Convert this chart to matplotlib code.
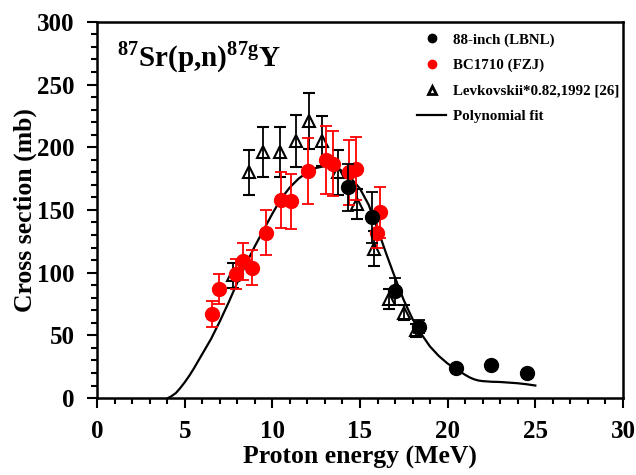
import numpy as np
import matplotlib
matplotlib.use('Agg')
import matplotlib.pyplot as plt
from matplotlib.ticker import MultipleLocator
from matplotlib.lines import Line2D

plt.rcParams['font.family'] = ['Liberation Serif', 'DejaVu Serif']
plt.rcParams['font.weight'] = 'bold'
plt.rcParams['mathtext.fontset'] = 'custom'
plt.rcParams['mathtext.rm'] = 'Liberation Serif:bold'
plt.rcParams['mathtext.bf'] = 'Liberation Serif:bold'

# 88-inch (LBNL)
e_lbnl = [14.3, 15.7, 17.0, 18.37, 20.5, 22.5, 24.5]
s_lbnl = [168, 144, 85, 57, 24, 26, 20]
d_lbnl = [19, 20, 11, 5, 2, 2, 2]

# BC1710 (FZJ)
e_fzj = [6.56, 6.96, 7.95, 8.33, 8.84, 9.64, 10.5, 11.07, 12.04, 13.06, 13.46, 14.4, 14.78, 15.97, 16.14]
s_fzj = [67, 87, 99, 109, 104, 132, 158, 157, 181, 190, 187, 180, 183, 132, 148]
d_fzj = [10, 12, 12, 15, 14, 18, 22, 22, 26, 27, 26, 26, 25, 12, 20]

# Levkovskii*0.82, 1992
e_lev = [7.76, 8.67, 9.47, 10.44, 11.35, 12.1, 12.84, 13.75, 14.83, 15.8, 16.66, 17.5, 18.2]
s_lev = [98, 180, 196, 196, 205, 221, 205, 180, 155, 119, 79, 68, 54]
d_lev = [10, 18, 20, 20, 21, 22, 20, 18, 12, 14, 8, 6, 5]

# polynomial fit
e_fit = [4.05, 4.25, 4.5, 4.75, 5.0, 5.25, 5.5, 5.75, 6.0, 6.5, 7.0, 7.5, 8.0, 8.5,
         9.0, 9.5, 10.0, 10.5, 11.0, 11.5, 12.0, 12.5, 13.0, 13.5, 14.0, 14.5,
         15.0, 15.5, 16.0, 16.5, 17.0, 17.5, 18.0, 18.5, 19.0, 19.5, 20.0, 20.5,
         21.0, 21.25, 21.5, 21.75, 22.0, 22.5, 23.0, 23.5, 24.0, 24.5, 25.0]
s_fit = [0, 1.5, 4, 8, 12.5, 17.5, 23, 29, 35, 47, 61, 76, 92, 107,
         121, 134, 147, 159, 168, 175, 180, 183.5, 185, 184.5, 181, 175,
         167, 154, 135, 115, 96, 78, 63, 51, 41, 33.5, 27.5, 23,
         18.5, 16.5, 15, 14, 13.5, 13, 12.8, 12.3, 11.8, 11, 10]

fig = plt.figure(figsize=(6.36, 4.75), dpi=100)
ax = fig.add_axes([0.1525, 0.162, 0.827, 0.792])

ax.plot(e_fit, s_fit, color='black', lw=1.6, zorder=2)
ax.errorbar(e_lev, s_lev, yerr=d_lev, fmt='^', ms=8.5, mfc='none', mec='black', mew=1.5,
            ecolor='black', elinewidth=1.3, capsize=4, capthick=1.3, zorder=3)
ax.errorbar(e_fzj, s_fzj, yerr=d_fzj, fmt='o', ms=10, color='red',
            ecolor='red', elinewidth=1.3, capsize=4, capthick=1.3, zorder=4)
ax.errorbar(e_lbnl, s_lbnl, yerr=d_lbnl, fmt='o', ms=10, color='black',
            ecolor='black', elinewidth=1.3, capsize=4, capthick=1.3, zorder=5)

ax.set_xlim(0, 30)
ax.set_ylim(0, 300)
ax.xaxis.set_major_locator(MultipleLocator(5))
ax.xaxis.set_minor_locator(MultipleLocator(1))
ax.yaxis.set_major_locator(MultipleLocator(50))
ax.yaxis.set_minor_locator(MultipleLocator(10))
ax.tick_params(which='both', direction='out', top=False, right=False, width=1.5)
ax.tick_params(which='major', length=7, labelsize=18, pad=9)
ax.tick_params(which='minor', length=4)
for sp in ax.spines.values():
    sp.set_linewidth(1.8)

ax.set_xlabel('Proton energy (MeV)', fontsize=18.5, fontweight='bold', labelpad=2)
ax.set_ylabel('Cross section (mb)', fontsize=18.5, fontweight='bold', labelpad=0)

ax.text(0.038, 0.905, r'$^{\mathbf{87}}$Sr(p,n)$^{\mathbf{87g}}$Y', transform=ax.transAxes,
        fontsize=21, fontweight='bold', va='center')

handles = [
    Line2D([], [], ls='none', marker='o', ms=6, color='black'),
    Line2D([], [], ls='none', marker='o', ms=6, color='red'),
    Line2D([], [], ls='none', marker='^', ms=6, mfc='none', mec='black', mew=2),
    Line2D([], [], color='black', lw=1.6),
]
labels = ['88-inch (LBNL)', 'BC1710 (FZJ)', 'Levkovskii*0.82,1992 [26]', 'Polynomial fit']
ax.legend(handles, labels, loc='upper right', bbox_to_anchor=(1.008, 0.99), frameon=False,
          prop={'weight': 'bold', 'size': 10.8}, handlelength=1.9, handletextpad=0.5,
          labelspacing=0.8, borderaxespad=0.1)

fig.savefig('out.png', dpi=100)
